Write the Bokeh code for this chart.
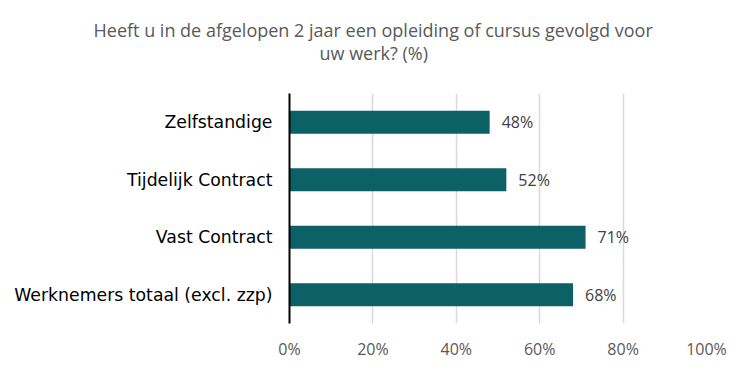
from bokeh.plotting import figure
from bokeh.models import ColumnDataSource, Range1d, FactorRange, FixedTicker, PrintfTickFormatter, LabelSet, Title
from bokeh.core.properties import value
from bokeh.embed import file_html
from bokeh.resources import INLINE

categories = ["Zelfstandige", "Tijdelijk Contract", "Vast Contract", "Werknemers totaal (excl. zzp)"]
values = [48, 52, 71, 68]
value_labels = ["48%", "52%", "71%", "68%"]
ticks = [0, 20, 40, 60, 80, 100]
title_lines = ["Heeft u in de afgelopen 2 jaar een opleiding of cursus gevolgd voor", "uw werk? (%)"]

source = ColumnDataSource(dict(cat=categories, val=values, lab=value_labels))

p = figure(width=750, height=372, output_backend="svg", toolbar_location=None,
           y_range=FactorRange(*list(reversed(categories)), range_padding=0),
           x_range=Range1d(0, 100), title=None,
           min_border_left=289, min_border_right=44, min_border_top=93, min_border_bottom=49)
p.outline_line_color = None
p.background_fill_color = "white"
p.border_fill_color = "white"

p.hbar(y="cat", right="val", left=0, height=0.4, source=source, color="#0B6165", line_color=None)

p.add_layout(LabelSet(x="val", y="cat", text="lab", source=source, x_offset=12,
                      text_baseline="middle", text_font=value("Open Sans"), text_font_size=value("16px"),
                      text_color="#404040"))

# axes
p.xaxis.ticker = FixedTicker(ticks=ticks)
p.xaxis.formatter = PrintfTickFormatter(format="%d%%")
p.xaxis.axis_line_color = None
p.xaxis.major_tick_line_color = None
p.xaxis.minor_tick_line_color = None
p.xaxis.major_label_text_font = "Open Sans"
p.xaxis.major_label_text_font_size = "16px"
p.xaxis.major_label_text_color = "#595959"
p.xaxis.major_label_standoff = 8

p.yaxis.axis_line_color = "black"
p.yaxis.axis_line_width = 2
p.yaxis.major_tick_line_color = None
p.yaxis.minor_tick_line_color = None
p.yaxis.major_label_text_font = "DejaVu Sans"
p.yaxis.major_label_text_font_size = "17.3px"
p.yaxis.major_label_text_color = "black"
p.yaxis.major_label_standoff = 11

p.ygrid.grid_line_color = None
p.xgrid.ticker = FixedTicker(ticks=ticks[1:])
p.xgrid.grid_line_color = "#d9d9d9"
p.xgrid.grid_line_width = 1.5

# title: two lines (first added sits closest to the plot)
p.add_layout(Title(text=title_lines[1], align="left", offset=30, standoff=58,
                   text_font="Open Sans", text_font_size="18px", text_font_style="normal",
                   text_color="#595959"), "above")
p.add_layout(Title(text=title_lines[0], align="left", offset=-196, standoff=-64,
                   text_font="Open Sans", text_font_size="18px", text_font_style="normal",
                   text_color="#595959"), "above")

open("out.html", "w").write(file_html(p, INLINE))
